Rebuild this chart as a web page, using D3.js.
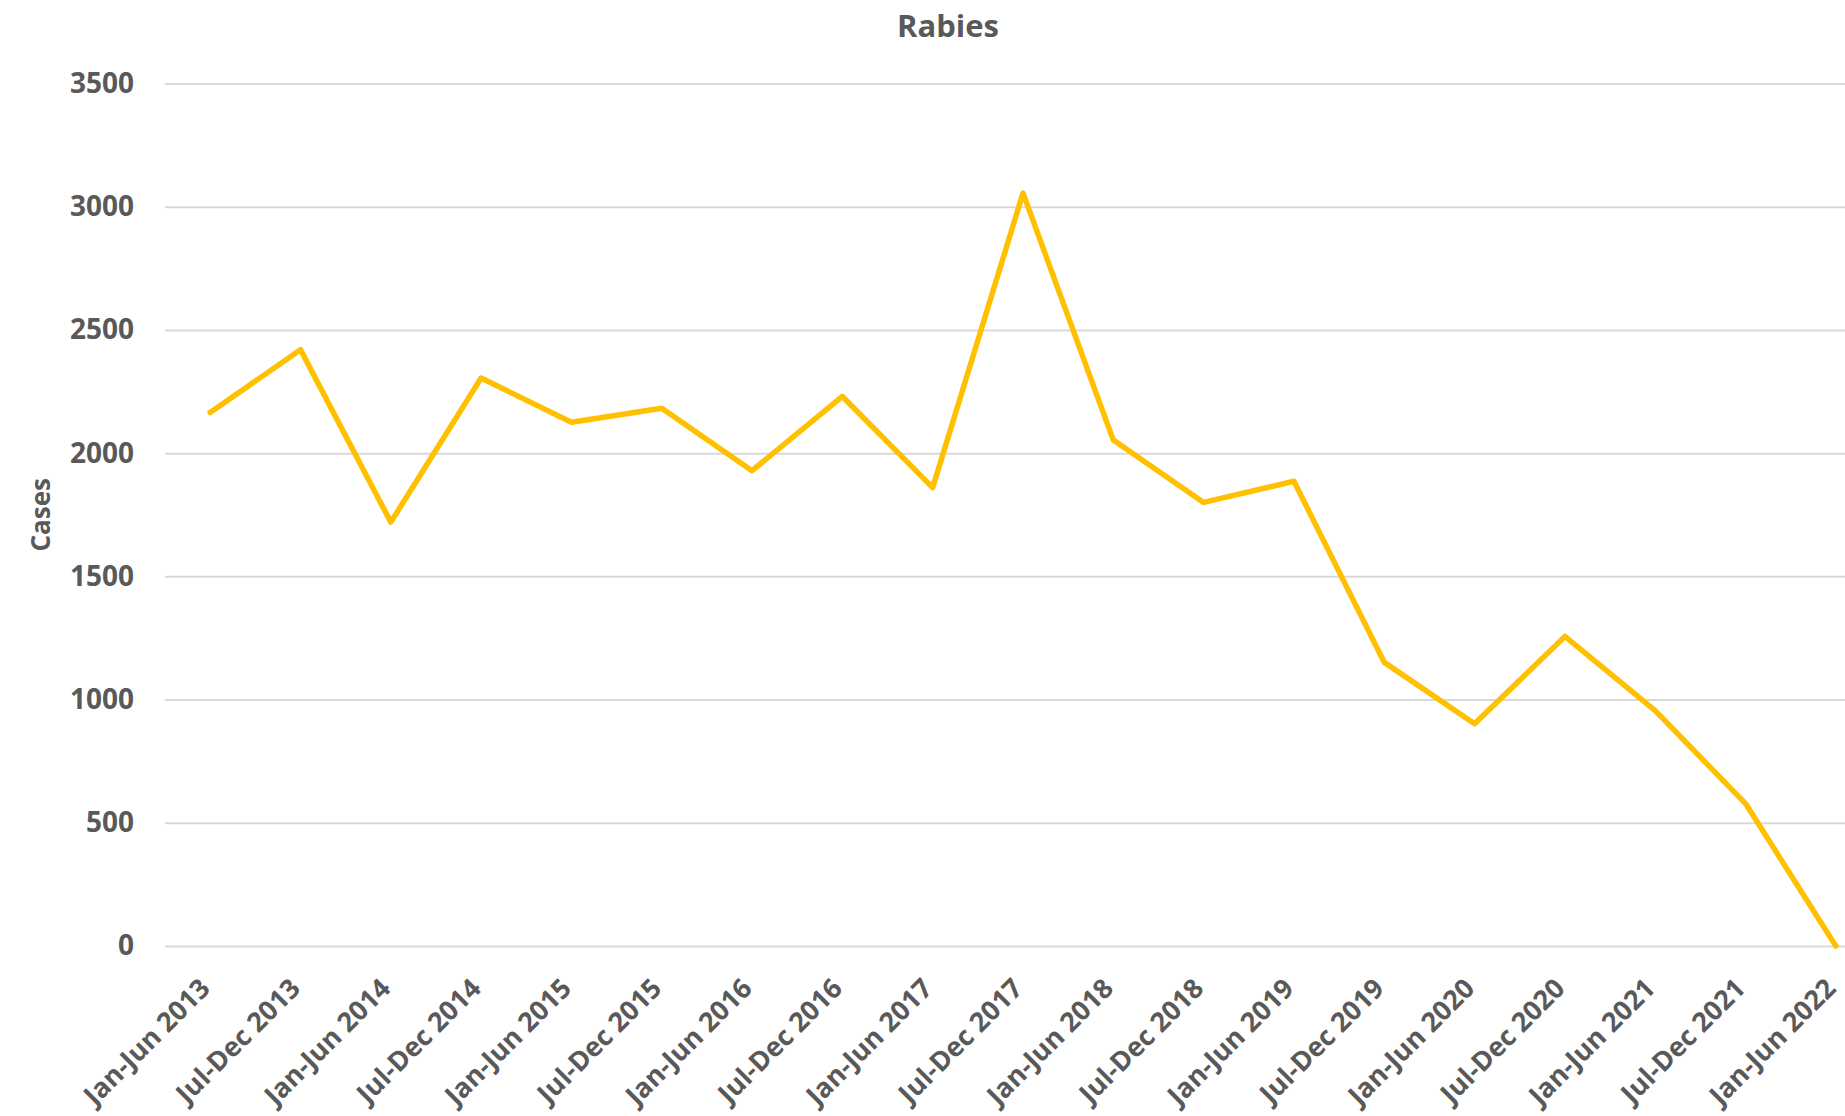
<html>
<head>
<meta charset="utf-8">
<style>
    body { margin: 0; background: #ffffff; }
    svg { display: block; }
    .tick text, .lbl { font-family: "Open Sans", Calibri, sans-serif; font-weight: bold; fill: #595959; }
</style>
</head>
<body>
<svg id="chart" width="1845" height="1116"></svg>
<script src="https://d3js.org/d3.v7.min.js"></script>
<script>
    // data
    let periods = ["Jan-Jun 2013", "Jul-Dec 2013", "Jan-Jun 2014", "Jul-Dec 2014", "Jan-Jun 2015",
        "Jul-Dec 2015", "Jan-Jun 2016", "Jul-Dec 2016", "Jan-Jun 2017", "Jul-Dec 2017",
        "Jan-Jun 2018", "Jul-Dec 2018", "Jan-Jun 2019", "Jul-Dec 2019", "Jan-Jun 2020",
        "Jul-Dec 2020", "Jan-Jun 2021", "Jul-Dec 2021", "Jan-Jun 2022"]
    let cases = [2165, 2420, 1720, 2305, 2125, 2182, 1929, 2230, 1860, 3055,
        2053, 1800, 1886, 1151, 902, 1256, 955, 578, 0]
    let yTicks = [0, 500, 1000, 1500, 2000, 2500, 3000, 3500]

    let width = 1845
    let height = 1116
    let margin = {left: 165, top: 83.5, bottom: 170}
    let plotRight = 1881   // plot area runs past the right edge of the picture

    let svg = d3.select("#chart")

    let xScale = d3.scalePoint()
        .domain(periods)
        .range([margin.left, plotRight])
        .padding(0.5)

    let yScale = d3.scaleLinear()
        .domain([0, 3500])
        .range([height - margin.bottom, margin.top])

    // gridlines + y labels
    let yAxis = svg.append("g")
        .attr("transform", `translate(${margin.left},0)`)
        .call(d3.axisLeft(yScale).tickValues(yTicks).tickFormat(d3.format("d"))
            .tickSize(-(plotRight - margin.left)).tickPadding(31))
    yAxis.select(".domain").remove()
    yAxis.selectAll("line").attr("stroke", "#d9d9d9").attr("stroke-width", 2)
    yAxis.selectAll("text").style("font-size", "28px")

    // x labels
    let xAxis = svg.append("g")
        .attr("transform", `translate(0,${height - margin.bottom})`)
        .call(d3.axisBottom(xScale).tickSize(0).tickPadding(0))
    xAxis.select(".domain").remove()
    xAxis.selectAll("text")
        .style("font-size", "27px")
        .attr("text-anchor", "end")
        .attr("dy", null)
        .attr("y", null)
        .attr("transform", "translate(1,44) rotate(-45)")

    // line
    let line = d3.line()
        .x((d, i) => xScale(periods[i]))
        .y(d => yScale(d))

    svg.append("path")
        .datum(cases)
        .attr("d", line)
        .attr("fill", "none")
        .attr("stroke", "#ffc000")
        .attr("stroke-width", 5.5)
        .attr("stroke-linejoin", "round")
        .attr("stroke-linecap", "round")

    // title
    svg.append("text")
        .attr("class", "lbl")
        .attr("x", 948)
        .attr("y", 37)
        .attr("text-anchor", "middle")
        .style("font-size", "31px")
        .text("Rabies")

    // y axis title
    svg.append("text")
        .attr("class", "lbl")
        .attr("transform", `translate(50,${(margin.top + height - margin.bottom) / 2}) rotate(-90)`)
        .attr("text-anchor", "middle")
        .style("font-size", "26px")
        .text("Cases")
</script>
</body>
</html>
